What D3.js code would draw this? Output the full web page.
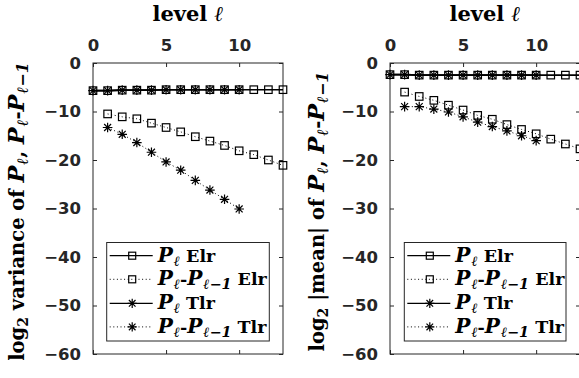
<!DOCTYPE html>
<html><head><meta charset="utf-8">
<script src="https://cdn.jsdelivr.net/npm/d3@7"></script>
<style>body{margin:0;background:#fff}svg{display:block}</style>
</head><body>
<svg id="c" width="579" height="378"></svg>
<script>
const levelsElr = [0,1,2,3,4,5,6,7,8,9,10,11,12,13];
const levelsTlr = [0,1,2,3,4,5,6,7,8,9,10];
const diffLevelsElr = [1,2,3,4,5,6,7,8,9,10,11,12,13];
const diffLevelsTlr = [1,2,3,4,5,6,7,8,9,10];
const xTicks = [0,5,10];
const yTicks = [0,-10,-20,-30,-40,-50,-60];

const varPElr = [-5.7,-5.7,-5.6,-5.6,-5.6,-5.5,-5.5,-5.5,-5.5,-5.5,-5.5,-5.5,-5.5,-5.5];
const varPTlr = [-5.7,-5.7,-5.6,-5.6,-5.6,-5.5,-5.5,-5.5,-5.5,-5.5,-5.5];
const varDElr = [-10.5,-11.1,-11.5,-12.4,-13.3,-14.2,-15.2,-16.1,-17.0,-18.1,-18.9,-20.0,-21.1];
const varDTlr = [-13.3,-14.7,-16.4,-18.4,-20.4,-22.1,-24.2,-26.2,-28.1,-30.1];

const meanPElr = [-2.4,-2.4,-2.5,-2.5,-2.5,-2.5,-2.5,-2.5,-2.5,-2.5,-2.5,-2.5,-2.5,-2.5];
const meanPTlr = [-2.4,-2.4,-2.5,-2.5,-2.5,-2.5,-2.5,-2.5,-2.5,-2.5,-2.5];
const meanDElr = [-6.0,-6.9,-7.7,-8.7,-9.7,-10.8,-11.6,-12.7,-13.7,-14.6,-15.7,-16.7,-17.7];
const meanDTlr = [-9.0,-9.0,-9.5,-10.1,-11.1,-12.2,-13.1,-14.0,-15.0,-16.0];

const svg = d3.select("#c");
const AX = "#262626";
const serif = "'DejaVu Serif', serif";
const sans = "'DejaVu Sans', sans-serif";

function rich(sel, segs, size){
  segs.forEach(([t, st]) => {
    const ts = sel.append("tspan").text(t);
    if (st === "i") ts.attr("font-style","italic");
    if (st === "m") ts.attr("font-style","italic").attr("font-size", size*1.15);
    if (st === "s") ts.attr("font-size", size*0.72).attr("baseline-shift","-28%");
    if (st === "ms") ts.attr("font-style","italic").attr("font-size", size*0.82).attr("baseline-shift","-28%").attr("dx", 1);
  });
}

function star(g, cx, cy, r){
  const d = r*0.72;
  g.append("path").attr("d",
    `M${cx-r},${cy}L${cx+r},${cy}M${cx},${cy-r}L${cx},${cy+r}M${cx-d},${cy-d}L${cx+d},${cy+d}M${cx-d},${cy+d}L${cx+d},${cy-d}`)
    .attr("stroke","#000").attr("stroke-width",1.2).attr("fill","none");
}
function square(g, cx, cy, s){
  g.append("rect").attr("x",cx-s/2).attr("y",cy-s/2).attr("width",s).attr("height",s)
    .attr("fill","none").attr("stroke","#000").attr("stroke-width",1.2);
}

const legendItems = [
  {dash:null, m:"sq", segs:[["P","m"],["ℓ","ms"],[" Elr",""]]},
  {dash:"1,2.6", m:"sq", segs:[["P","m"],["ℓ","ms"],["-",""],["P","m"],["ℓ−1","ms"],[" Elr",""]]},
  {dash:null, m:"st", segs:[["P","m"],["ℓ","ms"],[" Tlr",""]]},
  {dash:"1,2.6", m:"st", segs:[["P","m"],["ℓ","ms"],["-",""],["P","m"],["ℓ−1","ms"],[" Tlr",""]]}
];

function panel(x0, ylabelSegs, ylabelX, series, legBox){
  const x = d3.scaleLinear().domain([0,13]).range([x0, x0+190]);
  const y = d3.scaleLinear().domain([-60,0]).range([354,63]);
  const g = svg.append("g");

  const top = g.append("g").attr("transform",`translate(0,${y(0)})`)
    .call(d3.axisTop(x).tickValues(xTicks).tickSize(-4).tickPadding(12));
  const bot = g.append("g").attr("transform",`translate(0,${y(-60)})`)
    .call(d3.axisBottom(x).tickValues(xTicks).tickSize(-4).tickFormat(""));
  const left = g.append("g").attr("transform",`translate(${x(0)},0)`)
    .call(d3.axisLeft(y).tickValues(yTicks).tickSize(-4).tickPadding(12));
  const right = g.append("g").attr("transform",`translate(${x(13)},0)`)
    .call(d3.axisRight(y).tickValues(yTicks).tickSize(-4).tickFormat(""));
  [top,bot,left,right].forEach(a=>{
    a.select(".domain").remove();
    a.selectAll("line").attr("stroke",AX);
    a.selectAll("text").attr("fill",AX).attr("font-family",sans).attr("font-size",16.5).attr("font-weight","bold");
  });
  g.append("rect").attr("x",x(0)).attr("y",y(0)).attr("width",x(13)-x(0)).attr("height",y(-60)-y(0))
    .attr("fill","none").attr("stroke",AX).attr("stroke-width",1);

  const tl = g.append("text").attr("x",(x(0)+x(13))/2).attr("y",21).attr("text-anchor","middle")
    .attr("font-family",serif).attr("font-weight","bold").attr("font-size",21).attr("fill","#000");
  rich(tl, [["level ",""],["ℓ","i"]], 21);

  const yl = g.append("text").attr("transform",`translate(${ylabelX},${(y(0)+y(-60))/2+3}) rotate(-90)`)
    .attr("text-anchor","middle").attr("font-family",serif).attr("font-weight","bold").attr("font-size",19.5).attr("fill","#000");
  rich(yl, ylabelSegs, 19.5);

  series.forEach(s => {
    const line = d3.line().x(d=>x(d[0])).y(d=>y(d[1]));
    const pts = s.xs.map((v,i)=>[v, s.ys[i]]);
    g.append("path").attr("d", line(pts)).attr("fill","none").attr("stroke","#000")
      .attr("stroke-width", s.dash ? 1 : 1.6).attr("stroke-dasharray", s.dash);
    const mg = g.append("g");
    pts.forEach(p => {
      if (s.m === "sq") square(mg, x(p[0]), y(p[1]), 7.5);
      else star(mg, x(p[0]), y(p[1]), 4.8);
    });
  });

  const lg = g.append("g");
  lg.append("rect").attr("x",legBox[0]).attr("y",242.5).attr("width",legBox[1]).attr("height",98.5)
    .attr("fill","#fff").attr("stroke",AX).attr("stroke-width",1);
  const rows = [255.7,279.3,303.3,326.9];
  legendItems.forEach((it,i) => {
    const cy = rows[i];
    const lx0 = legBox[0]+3, lx1 = legBox[0]+46, mx = legBox[0]+25.5;
    lg.append("line").attr("x1",lx0).attr("x2",lx1).attr("y1",cy).attr("y2",cy)
      .attr("stroke","#000").attr("stroke-width", it.dash?1:1.3).attr("stroke-dasharray", it.dash);
    if (it.m==="sq") square(lg, mx, cy, 7); else star(lg, mx, cy, 4.6);
    const t = lg.append("text").attr("x", legBox[0]+51).attr("y", cy+6)
      .attr("font-family",serif).attr("font-weight","bold").attr("font-size",17.5).attr("fill","#000")
      .attr("xml:space","preserve");
    rich(t, it.segs, 17.5);
  });
}

const ylSegsTail = [["P","m"],["ℓ","ms"],[", ",""],["P","m"],["ℓ","ms"],["-",""],["P","m"],["ℓ−1","ms"]];

panel(93, [["log",""],["2","s"],[" variance of ",""], ...ylSegsTail], 24,
  [
    {xs:levelsElr, ys:varPElr, dash:null, m:"sq"},
    {xs:diffLevelsElr, ys:varDElr, dash:"1,2.6", m:"sq"},
    {xs:levelsTlr, ys:varPTlr, dash:null, m:"st"},
    {xs:diffLevelsTlr, ys:varDTlr, dash:"1,2.6", m:"st"}
  ], [106.7, 162.6]);

panel(390, [["log",""],["2","s"],[" |mean| of ",""], ...ylSegsTail], 324,
  [
    {xs:levelsElr, ys:meanPElr, dash:null, m:"sq"},
    {xs:diffLevelsElr, ys:meanDElr, dash:"1,2.6", m:"sq"},
    {xs:levelsTlr, ys:meanPTlr, dash:null, m:"st"},
    {xs:diffLevelsTlr, ys:meanDTlr, dash:"1,2.6", m:"st"}
  ], [404.3, 161.7]);
</script>
</body></html>
